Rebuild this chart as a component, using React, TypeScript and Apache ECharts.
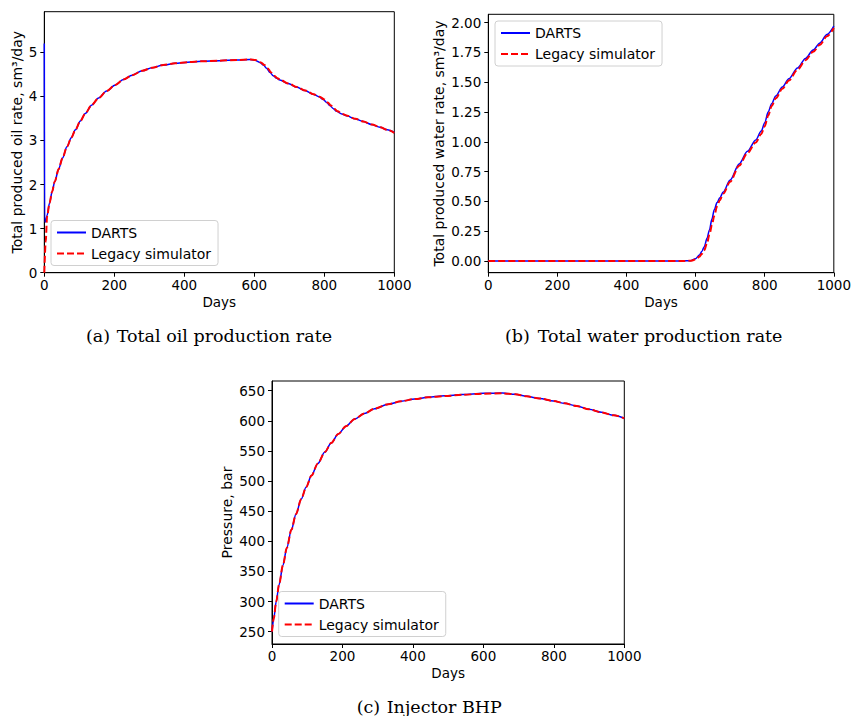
import React, { useEffect, useRef } from "react";
import * as echarts from "echarts";

// ---------- data ----------
const DAYS_TICKS = [0, 200, 400, 600, 800, 1000];
const OIL_TICKS = [0, 1, 2, 3, 4, 5];
const WATER_TICKS = [0, 0.25, 0.5, 0.75, 1.0, 1.25, 1.5, 1.75, 2.0];
const BHP_TICKS = [250, 300, 350, 400, 450, 500, 550, 600, 650];

const OIL_DARTS: number[][] = [
  [0, 5.2], [1, 1.18], [3, 1.15], [8, 1.3], [15, 1.58], [22, 1.83], [30, 2.07],
  [41, 2.35], [52, 2.6], [65, 2.86], [77, 3.06], [89, 3.24], [103, 3.44],
  [117, 3.61], [135, 3.8], [155, 3.96], [178, 4.12], [203, 4.26], [226, 4.38],
  [251, 4.48], [280, 4.58], [308, 4.65], [340, 4.71], [374, 4.75], [410, 4.775],
  [450, 4.795], [500, 4.81], [550, 4.825], [588, 4.835], [600, 4.825], [616, 4.77],
  [626, 4.71], [635, 4.64], [645, 4.54], [654, 4.47], [664, 4.41], [673, 4.37],
  [697, 4.29], [721, 4.21], [745, 4.13], [768, 4.05], [785, 3.99], [797, 3.93],
  [807, 3.86], [816, 3.79], [826, 3.72], [835, 3.66], [850, 3.6], [864, 3.56],
  [888, 3.49], [911, 3.43], [935, 3.36], [959, 3.3], [980, 3.24], [1000, 3.18],
];
const OIL_LEGACY: number[][] = [
  [0, 0], [4, 0.7], [8, 1.28], [15, 1.58], [22, 1.83], [30, 2.07],
  [41, 2.35], [52, 2.6], [65, 2.86], [77, 3.06], [89, 3.24], [103, 3.44],
  [117, 3.61], [135, 3.8], [155, 3.96], [178, 4.12], [203, 4.26], [226, 4.38],
  [251, 4.48], [280, 4.58], [308, 4.65], [340, 4.71], [374, 4.75], [410, 4.775],
  [450, 4.795], [500, 4.81], [550, 4.825], [590, 4.835], [603, 4.825], [619, 4.77],
  [629, 4.71], [638, 4.64], [648, 4.54], [657, 4.47], [666, 4.41], [675, 4.37],
  [698, 4.29], [722, 4.21], [746, 4.13], [769, 4.05], [787, 3.99], [800, 3.93],
  [810, 3.86], [819, 3.79], [829, 3.72], [838, 3.66], [852, 3.6], [866, 3.56],
  [889, 3.49], [912, 3.43], [936, 3.36], [960, 3.3], [980, 3.24], [1000, 3.17],
];

const WATER_DARTS: number[][] = [
  [0, 0], [100, 0], [200, 0], [300, 0], [400, 0], [500, 0], [560, 0],
  [585, 0.003], [600, 0.02], [611, 0.05], [618, 0.08], [625, 0.12], [633, 0.19],
  [640, 0.26], [647, 0.35], [654, 0.43], [662, 0.49], [670, 0.53], [680, 0.58],
  [700, 0.68], [726, 0.815], [750, 0.92], [774, 1.015], [790, 1.09], [800, 1.16],
  [810, 1.25], [820, 1.32], [832, 1.385], [851, 1.46], [870, 1.53], [895, 1.62],
  [918, 1.7], [940, 1.77], [960, 1.83], [980, 1.9], [1000, 1.97],
];
const WATER_LEGACY: number[][] = [
  [0, 0], [100, 0], [200, 0], [300, 0], [400, 0], [500, 0], [560, 0],
  [585, 0.002], [600, 0.012], [611, 0.035], [618, 0.06], [625, 0.09], [633, 0.15],
  [640, 0.22], [647, 0.3], [654, 0.38], [662, 0.46], [670, 0.51], [680, 0.565],
  [700, 0.665], [726, 0.8], [750, 0.905], [774, 0.995], [790, 1.065], [800, 1.13],
  [810, 1.22], [820, 1.3], [832, 1.365], [851, 1.445], [870, 1.515], [895, 1.605],
  [918, 1.685], [940, 1.755], [960, 1.815], [980, 1.885], [1000, 1.955],
];

const BHP_DARTS: number[][] = [
  [0, 250], [5, 272], [12, 300], [20, 328], [31, 360], [42, 389], [55, 419],
  [68, 445], [83, 470], [97, 490], [112, 509], [130, 529], [150, 548],
  [168, 563], [188, 578], [210, 591], [235, 603], [262, 612], [291, 620],
  [330, 627.5], [367, 632.5], [405, 636], [443, 639], [490, 641.5], [540, 643.5],
  [600, 645.5], [655, 646], [690, 644], [723, 640.5], [760, 637], [799, 633],
  [830, 629], [865, 624.5], [900, 619], [935, 614], [970, 609], [1000, 604],
];
const BHP_LEGACY: number[][] = [
  [0, 250], [5, 272], [12, 300], [20, 328], [31, 360], [42, 389], [55, 419],
  [68, 445], [83, 470], [97, 490], [112, 509], [130, 529], [150, 548],
  [168, 563], [188, 578], [210, 591], [235, 603], [262, 612], [291, 620],
  [330, 627.5], [367, 632.5], [405, 636], [443, 639], [490, 641], [540, 643],
  [600, 645], [655, 645.5], [690, 644], [723, 640.5], [760, 637], [799, 633],
  [830, 629], [865, 624.5], [900, 619], [935, 614], [970, 609], [1000, 604],
];

const SERIES_NAMES = ["DARTS", "Legacy simulator"];
const Y_NAMES = [
  "Total produced oil rate, sm³/day",
  "Total produced water rate, sm³/day",
  "Pressure, bar",
];
const CAPTIONS = [
  ["(a)", "Total oil production rate"],
  ["(b)", "Total water production rate"],
  ["(c)", "Injector BHP"],
];

// ---------- styling ----------
const FONT = "DejaVu Sans";
const SERIF = "DejaVu Serif";
const FS = 13.5;

function xAxis(gridIndex: number) {
  return {
    type: "value",
    gridIndex,
    min: 0,
    max: 1000,
    name: "Days",
    nameLocation: "middle",
    nameGap: 22,
    nameTextStyle: { fontFamily: FONT, fontSize: FS, color: "#000" },
    axisLine: { show: true, onZero: false, lineStyle: { color: "#000", width: 1 } },
    axisTick: { show: true, length: 4, lineStyle: { color: "#000" }, customValues: DAYS_TICKS },
    axisLabel: {
      customValues: DAYS_TICKS,
      margin: 5,
      fontFamily: FONT,
      fontSize: FS,
      color: "#000",
      formatter: (v: number) => String(v),
    },
    splitLine: { show: false },
  };
}

function yAxis(gridIndex: number, min: number, max: number, ticks: number[], name: string, nameGap: number, fmt?: (v: number) => string) {
  return {
    type: "value",
    gridIndex,
    min,
    max,
    name,
    nameLocation: "middle",
    nameRotate: 90,
    nameGap,
    nameTextStyle: { fontFamily: FONT, fontSize: 14, color: "#000" },
    axisLine: { show: true, onZero: false, lineStyle: { color: "#000", width: 1 } },
    axisTick: { show: true, length: 4, lineStyle: { color: "#000" }, customValues: ticks },
    axisLabel: {
      customValues: ticks,
      margin: 7,
      fontFamily: FONT,
      fontSize: FS,
      color: "#000",
      formatter: (v: number) => (fmt ? fmt(v) : String(v)),
    },
    splitLine: { show: false },
  };
}

function lineSeries(idx: number, data: number[][], legacy: boolean) {
  return {
    type: "line",
    name: legacy ? SERIES_NAMES[1] : SERIES_NAMES[0],
    xAxisIndex: idx,
    yAxisIndex: idx,
    data,
    symbol: "none",
    showSymbol: false,
    smooth: 0.3,
    smoothMonotone: "x",
    lineStyle: legacy
      ? { color: "#ff0000", width: 2, type: [7, 3] }
      : { color: "#0000ff", width: 1.5, type: "solid" },
    itemStyle: { color: legacy ? "#ff0000" : "#0000ff" },
    z: legacy ? 3 : 2,
  };
}

function legend(left: number, top: number) {
  return {
    orient: "vertical",
    left,
    top,
    data: SERIES_NAMES,
    selectedMode: false,
    padding: [5, 7, 5, 5],
    itemWidth: 29,
    itemHeight: 14,
    itemGap: 7,
    itemTextGap: 10,
    itemStyle: { opacity: 0, borderWidth: 0 },
    textStyle: { fontFamily: FONT, fontSize: 14, color: "#000" },
    borderColor: "#d0d0d0",
    borderWidth: 1,
    borderRadius: 3,
    backgroundColor: "rgba(255,255,255,0.8)",
  };
}

function caption(x1: number, x2: number, y: number, parts: string[]) {
  const st = { font: `17.5px "${SERIF}"`, fill: "#000", align: "left", textAlign: "left", verticalAlign: "middle", textVerticalAlign: "middle" };
  return [
    { type: "text", x: x1, y, style: { ...st, text: parts[0] } },
    { type: "text", x: x2, y, style: { ...st, text: parts[1] } },
  ];
}

export default function App() {
  const ref = useRef<HTMLDivElement>(null);

  useEffect(() => {
    if (!ref.current) return;
    const chart = echarts.init(ref.current, undefined, { renderer: "svg" });
    const option = {
      animation: false,
      backgroundColor: "#fff",
      grid: [
        { left: 44.3, top: 11.7, width: 350, height: 261, show: true, borderColor: "#000", borderWidth: 1, backgroundColor: "transparent" },
        { left: 488.3, top: 14.3, width: 346.7, height: 258.4, show: true, borderColor: "#000", borderWidth: 1, backgroundColor: "transparent" },
        { left: 272, top: 381, width: 352.3, height: 263, show: true, borderColor: "#000", borderWidth: 1, backgroundColor: "transparent" },
      ],
      xAxis: [xAxis(0), xAxis(1), xAxis(2)],
      yAxis: [
        yAxis(0, 0, 5.92, OIL_TICKS, Y_NAMES[0], 20),
        yAxis(1, -0.098, 2.07, WATER_TICKS, Y_NAMES[1], 42, (v) => v.toFixed(2)),
        yAxis(2, 229.6, 666, BHP_TICKS, Y_NAMES[2], 38),
      ],
      legend: [legend(51, 220.5), legend(495, 21), legend(278.7, 591.5)],
      series: [
        lineSeries(0, OIL_DARTS, false),
        lineSeries(0, OIL_LEGACY, true),
        lineSeries(1, WATER_DARTS, false),
        lineSeries(1, WATER_LEGACY, true),
        lineSeries(2, BHP_DARTS, false),
        lineSeries(2, BHP_LEGACY, true),
      ],
      graphic: [
        ...caption(86, 116.7, 336, CAPTIONS[0]),
        ...caption(505, 537.7, 336, CAPTIONS[1]),
        ...caption(356.7, 386.7, 707, CAPTIONS[2]),
      ],
    };
    chart.setOption(option as any);
    return () => chart.dispose();
  }, []);

  return (
    <div
      ref={ref}
      style={{ position: "absolute", left: 0, top: 0, width: 854, height: 716 }}
    />
  );
}
